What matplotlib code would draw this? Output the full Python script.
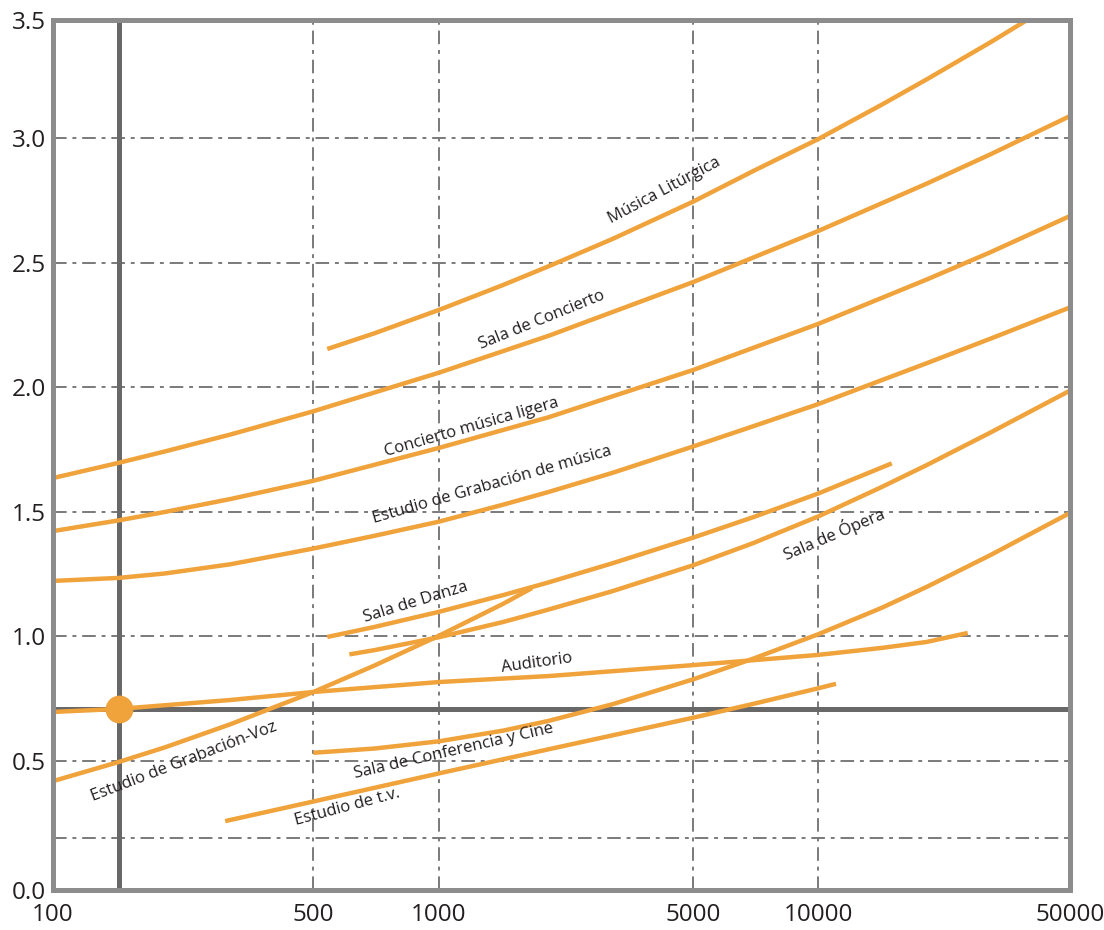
import numpy as np
import matplotlib
matplotlib.use("Agg")
import matplotlib.pyplot as plt
from matplotlib.ticker import NullLocator

plt.rcParams['font.family'] = ['Open Sans', 'DejaVu Sans']

# ---------------- data ----------------
x_ticks = [100, 500, 1000, 5000, 10000, 50000]
x_tick_labels = ["100", "500", "1000", "5000", "10000", "50000"]
y_ticks = [0.0, 0.5, 1.0, 1.5, 2.0, 2.5, 3.0, 3.5]
y_tick_labels = ["0.0", "0.5", "1.0", "1.5", "2.0", "2.5", "3.0", "3.5"]
grid_x = [500, 1000, 5000, 10000]
grid_y = [0.2, 0.5, 1.0, 1.5, 2.0, 2.5, 3.0]

ref_x = 150
ref_y = 0.71

liturgica_x = [540, 700, 1000, 1500, 2000, 3000, 5000, 7000, 10000, 15000, 20000, 30000, 38000]
liturgica_y = [2.154, 2.217, 2.311, 2.411, 2.486, 2.596, 2.746, 2.870, 2.997, 3.142, 3.249, 3.405, 3.50]

concierto_x = [100, 150, 200, 300, 500, 1000, 2000, 5000, 10000, 20000, 30000, 50000]
concierto_y = [1.636, 1.697, 1.743, 1.811, 1.904, 2.059, 2.207, 2.423, 2.628, 2.818, 2.935, 3.094]

ligera_x = [100, 150, 200, 300, 500, 1000, 2000, 5000, 10000, 20000, 30000, 50000]
ligera_y = [1.423, 1.466, 1.500, 1.552, 1.625, 1.757, 1.880, 2.070, 2.255, 2.433, 2.542, 2.688]

grab_musica_x = [100, 150, 200, 300, 500, 700, 1000, 1500, 2000, 3000, 5000, 7000, 10000,
                 15000, 20000, 30000, 50000]
grab_musica_y = [1.223, 1.235, 1.253, 1.290, 1.353, 1.404, 1.461, 1.529, 1.580, 1.657, 1.763,
                 1.845, 1.933, 2.029, 2.097, 2.195, 2.321]

danza_x = [540, 700, 1000, 1500, 2000, 3000, 5000, 7000, 10000, 16000]
danza_y = [0.998, 1.038, 1.099, 1.166, 1.217, 1.294, 1.397, 1.480, 1.574, 1.695]

opera_x = [610, 700, 1000, 1500, 2000, 3000, 5000, 7000, 10000, 15000, 20000, 30000, 50000]
opera_y = [0.928, 0.945, 0.997, 1.058, 1.108, 1.182, 1.286, 1.376, 1.482, 1.600, 1.688, 1.818, 1.987]

voz_x = [100, 150, 200, 300, 500, 700, 1000, 1500, 1800]
voz_y = [0.422, 0.496, 0.555, 0.648, 0.777, 0.883, 1.003, 1.131, 1.194]

auditorio_x = [100, 150, 300, 500, 1000, 2000, 5000, 10000, 15000, 20000, 26000]
auditorio_y = [0.697, 0.709, 0.745, 0.777, 0.817, 0.841, 0.885, 0.926, 0.954, 0.978, 1.014]

conferencia_x = [500, 700, 1000, 1500, 2000, 3000, 5000, 7000, 10000, 15000, 20000, 30000, 50000]
conferencia_y = [0.533, 0.550, 0.579, 0.622, 0.661, 0.728, 0.828, 0.912, 1.009, 1.115, 1.199, 1.326, 1.496]

tv_x = [290, 500, 700, 1000, 2000, 3000, 5000, 7000, 10000, 11200]
tv_y = [0.267, 0.343, 0.396, 0.452, 0.547, 0.603, 0.674, 0.730, 0.792, 0.810]

curves = [
    (liturgica_x, liturgica_y),
    (concierto_x, concierto_y),
    (ligera_x, ligera_y),
    (grab_musica_x, grab_musica_y),
    (danza_x, danza_y),
    (opera_x, opera_y),
    (voz_x, voz_y),
    (auditorio_x, auditorio_y),
    (conferencia_x, conferencia_y),
    (tv_x, tv_y),
]

# label text, x, y, rotation
labels = [
    ("Música Litúrgica", 4155, 2.79, 28),
    ("Sala de Concierto", 1919, 2.272, 22),
    ("Concierto música ligera", 1232, 1.840, 16),
    ("Estudio de Grabación de música", 1399, 1.607, 16),
    ("Sala de Danza", 881, 1.136, 17),
    ("Sala de Ópera", 11060, 1.412, 23),
    ("Auditorio", 1859, 0.892, 8),
    ("Estudio de Grabación-Voz", 225, 0.497, 21),
    ("Sala de Conferencia y Cine", 1100, 0.540, 13),
    ("Estudio de t.v.", 602, 0.322, 15),
]

# ---------------- scales (chart's own uneven tick spacing) ----------------
LX = np.log10(np.array(x_ticks, dtype=float))
PX = np.array([0, 260.3, 386, 640.3, 765.3, 1017])
YV = np.array([0.0, 0.5, 3.0, 3.5])
PY = np.array([0, 129, 751.7, 870])


def xf(x):
    x = np.asarray(x, dtype=float)
    return np.interp(np.log10(np.clip(x, 1e-9, None)), LX, PX)


def xi(p):
    return 10 ** np.interp(np.asarray(p, dtype=float), PX, LX)


def yf(y):
    return np.interp(np.asarray(y, dtype=float), YV, PY)


def yi(p):
    return np.interp(np.asarray(p, dtype=float), PY, YV)


ORANGE = "#F0A23B"
GRID = "#7a7a7a"
DARK = "#686868"
BORDER = "#8c8c8c"
TEXT = "#231f20"

fig = plt.figure(figsize=(11.04, 9.30), dpi=100)
ax = fig.add_axes([53 / 1104, 40 / 930, 1017 / 1104, 870 / 930])
ax.set_xscale('function', functions=(xf, xi))
ax.set_yscale('function', functions=(yf, yi))
ax.set_xlim(100, 50000)
ax.set_ylim(0, 3.5)

dash = (0, (7, 3, 2, 3))
for gx in grid_x:
    ax.axvline(gx, color=GRID, lw=1.4, linestyle=dash, zorder=1)
for gy in grid_y:
    ax.axhline(gy, color=GRID, lw=1.4, linestyle=dash, zorder=1)

ax.axvline(ref_x, color=DARK, lw=3.6, zorder=2)
ax.axhline(ref_y, color=DARK, lw=3.6, zorder=2)

for cx, cy in curves:
    ax.plot(cx, cy, color=ORANGE, lw=3.2, solid_capstyle='butt',
            solid_joinstyle='round', zorder=3)

ax.plot([ref_x], [ref_y], 'o', ms=19, color=ORANGE, zorder=4)

for txt, tx, ty, rot in labels:
    ax.text(tx, ty, txt, rotation=rot, rotation_mode='anchor', ha='center', va='center',
            fontsize=12, color=TEXT, zorder=5)

ax.set_xticks(x_ticks)
ax.set_xticklabels(x_tick_labels)
ax.set_yticks(y_ticks)
ax.set_yticklabels(y_tick_labels)
ax.xaxis.set_minor_locator(NullLocator())
ax.yaxis.set_minor_locator(NullLocator())
ax.tick_params(length=0, labelsize=17.5, colors=TEXT)
ax.tick_params(axis='x', pad=9)
ax.tick_params(axis='y', pad=5)

for s in ax.spines.values():
    s.set_color(BORDER)
    s.set_linewidth(3.6)
    s.set_zorder(6)

fig.savefig("out.png", dpi=100)
